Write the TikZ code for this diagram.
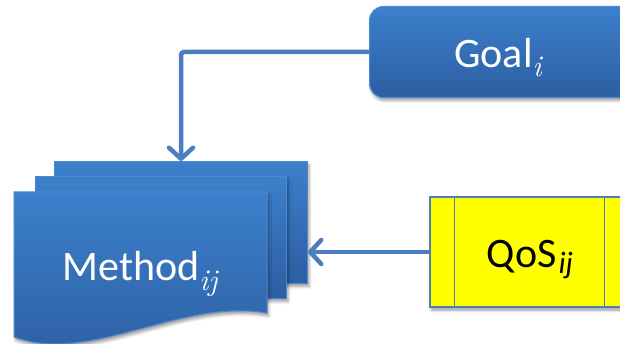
\documentclass[tikz,border=0pt]{standalone}
\usepackage{fontspec}
\setmainfont{Carlito}
\newfontfamily\lmr{Latin Modern Roman}
\usetikzlibrary{arrows.meta,shadows.blur}
\definecolor{bluetop}{RGB}{60,128,204}
\definecolor{bluebot}{RGB}{44,94,162}
\definecolor{blueedge}{RGB}{80,135,205}
\definecolor{arrowblue}{RGB}{74,126,193}
\definecolor{qosyellow}{RGB}{255,255,0}
\newcommand{\mysub}[2]{\raisebox{#1}{\fontsize{30}{30}\selectfont\lmr\itshape #2}}
\begin{document}
\begin{tikzpicture}[x=1pt,y=-1pt,
 bluebox/.style={top color=bluetop, bottom color=bluebot, draw=blueedge, line width=1pt},
 shad/.style={blur shadow={shadow xshift=1.5pt,shadow yshift=-3pt,shadow blur radius=3pt,shadow opacity=40}},
 conn/.style={draw=arrowblue, line width=4.5pt, -{Straight Barb[length=11pt,width=24pt,round]}, rounded corners=3pt},
 lbl/.style={font=\fontsize{42}{50}\selectfont, anchor=base, inner sep=0pt}]
\useasboundingbox (0,0) rectangle (620,344);

\node[bluebox, shad, rounded corners=14pt, minimum width=271pt, minimum height=91pt, anchor=north west, inner sep=0pt] (goal) at (369,6) {};
\node[lbl, text=white] (goaltext) at (498,68) {Goal\mysub{-9pt}{i}};

\node[bluebox, shad, minimum width=253pt, minimum height=122pt, anchor=north west, inner sep=0pt] (doc3) at (54,161) {};
\node[bluebox, shad, minimum width=251pt, minimum height=122pt, anchor=north west, inner sep=0pt] (doc2) at (35,176) {};
\path[bluebox, shad] (14,192) coordinate (doc1) -- (267,192) -- (267,313) .. controls (180,298) and (90,365) .. (14,337) -- cycle;
\node[lbl, text=white] (method) at (140,280) {Method\mysub{-10pt}{ij}};

\node[draw=arrowblue, line width=1.2pt, fill=qosyellow, shad, minimum width=199pt, minimum height=110pt, inner sep=0pt] (qos) at (529.5,252) {};
\draw[arrowblue, line width=1.2pt] ([xshift=25pt]qos.north west) -- ([xshift=25pt]qos.south west);
\draw[arrowblue, line width=1.2pt] ([xshift=-25pt]qos.north east) -- ([xshift=-25pt]qos.south east);
\node[lbl] (qostext) at (530,267) {QoS\kern2pt\raisebox{-6pt}{\fontsize{31}{32}\selectfont\itshape ij}};

\draw[conn] (goal.west) -| (doc3.north);
\draw[conn] (qos.west) -- (qos.west -| doc3.east);
\end{tikzpicture}
\end{document}
